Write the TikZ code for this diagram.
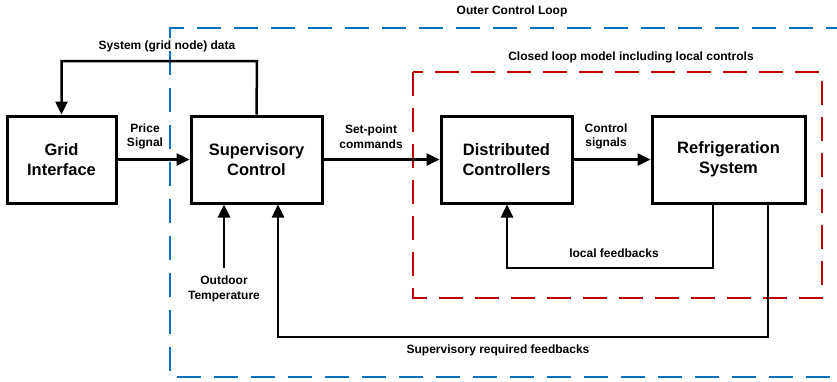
\documentclass[tikz,border=0pt]{standalone}
\usepackage{fontspec}
\setmainfont{Liberation Sans}
\usetikzlibrary{arrows.meta}
\definecolor{loopblue}{RGB}{0,112,192}
\definecolor{loopred}{RGB}{192,0,0}
\begin{document}
\begin{tikzpicture}[x=1pt,y=-1pt,
  blockbox/.style={draw,line width=3pt,minimum height=87pt,align=center,
    font=\fontsize{16.5}{20}\selectfont\bfseries,inner sep=0pt},
  lbl/.style={align=center,font=\fontsize{12}{14.5}\selectfont\bfseries,inner sep=0pt},
  conn/.style={line width=2.5pt,-{Triangle[length=13pt,width=12pt]}},
  outerloop/.style={draw=loopblue,line width=2.6pt,dash pattern=on 24pt off 13pt},
  innerloop/.style={draw=loopred,line width=2.6pt,dash pattern=on 24pt off 12pt}]
\useasboundingbox (0,0) rectangle (837,381);
\begin{scope}
\clip (0,0) rectangle (837,381);
\draw[outerloop] (850,28) -- (170,28) -- (170,377) -- (850,377);
\end{scope}
\draw[innerloop] (413,72) rectangle (822,298);
\node[lbl] (outerlbl) at (512,11) {Outer Control Loop};
\node[lbl] (innerlbl) at (631,57) {Closed loop model including local controls};

\node[blockbox,minimum width=109pt] (grid) at (61.5,159.5) {Grid\\Interface};
\node[blockbox,minimum width=131pt] (sup) at (256.5,159.5) {Supervisory\\Control};
\node[blockbox,minimum width=131pt] (dist) at (506.5,159.5) {Distributed\\Controllers};
\node[blockbox,minimum width=153pt] (ref) at (728.5,159.5) {Refrigeration\\System};

\draw[conn] (grid.east) -- (sup.west);
\draw[conn] (sup.east) -- (dist.west);
\draw[conn] (dist.east) -- (ref.west);
\node[lbl] (price) at (145,136.5) {Price\\Signal};
\node[lbl] (setp) at (371,136.5) {Set-point\\commands};
\node[lbl] (ctrl) at (606,136.5) {Control\\signals};

\coordinate (sd) at (257,61);
\draw[conn] (sup.north) -- (sd) -| (grid.north);
\node[lbl] (sdlbl) at (167,46) {System (grid node) data};

\coordinate (outd) at (224,268);
\draw[conn] (outd) -- (outd |- sup.south);
\node[lbl,anchor=north] (outlbl) at (224,276) {Outdoor\\Temperature};

\coordinate (lf1) at (713,268);
\coordinate (lf2) at (507,268);
\draw[conn] (ref.south -| lf1) -- (lf1) -- (lf2) -- (lf2 |- dist.south);
\node[lbl] (lflbl) at (614,253) {local feedbacks};

\coordinate (sf1) at (768,337);
\coordinate (sf2) at (278,337);
\draw[conn] (ref.south -| sf1) -- (sf1) -- (sf2) -- (sf2 |- sup.south);
\node[lbl] (sflbl) at (498,350) {Supervisory required feedbacks};
\end{tikzpicture}
\end{document}
